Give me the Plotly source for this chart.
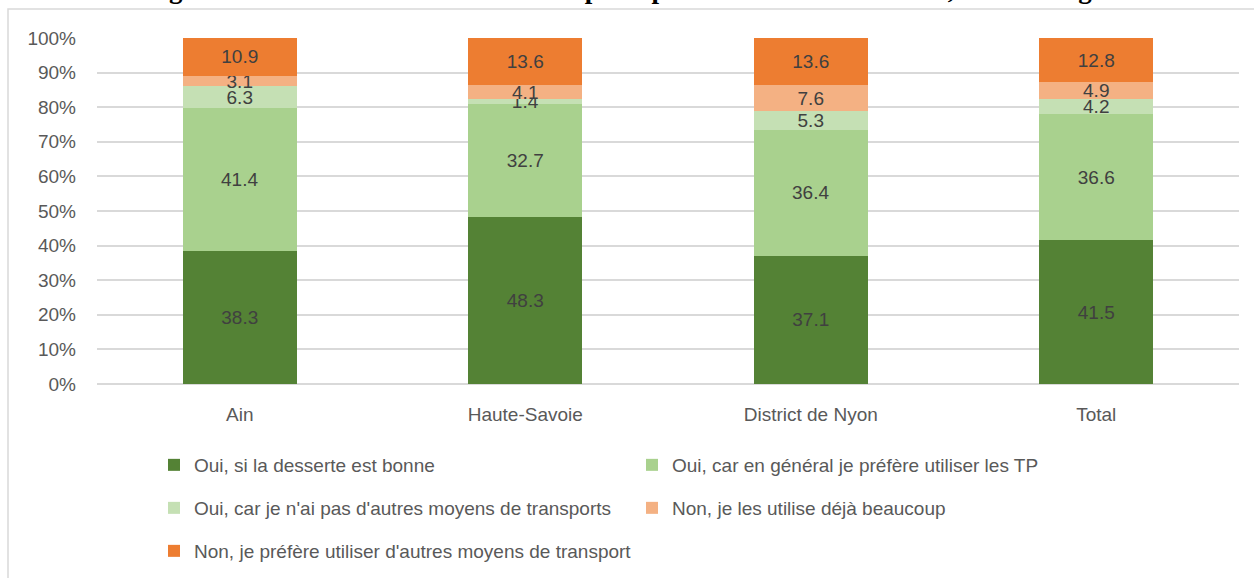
import plotly.graph_objects as go

categories = ["Ain", "Haute-Savoie", "District de Nyon", "Total"]
series_names = [
    "Oui, si la desserte est bonne",
    "Oui, car en général je préfère utiliser les TP",
    "Oui, car je n'ai pas d'autres moyens de transports",
    "Non, je les utilise déjà beaucoup",
    "Non, je préfère utiliser d'autres moyens de transport",
]
desserte_bonne = [38.3, 48.3, 37.1, 41.5]
prefere_tp = [41.4, 32.7, 36.4, 36.6]
pas_autres_moyens = [6.3, 1.4, 5.3, 4.2]
utilise_deja = [3.1, 4.1, 7.6, 4.9]
prefere_autres = [10.9, 13.6, 13.6, 12.8]
series_values = [desserte_bonne, prefere_tp, pas_autres_moyens, utilise_deja, prefere_autres]
colors = ["#548235", "#A9D18E", "#C5E0B4", "#F4B183", "#ED7D31"]
legend_ids = ["legend", "legend", "legend2", "legend2", "legend3"]
y_ticks = [0, 10, 20, 30, 40, 50, 60, 70, 80, 90, 100]
y_tick_labels = [f"{t}%" for t in y_ticks]
title_text = "Figure 17: Utilisation accrue des transports publics si habitait Genève, selon la région"

FONT = "Liberation Sans Narrow, Arial Narrow, Liberation Sans, Arial, sans-serif"

fig = go.Figure()
for name, vals, col, lg in zip(series_names, series_values, colors, legend_ids):
    fig.add_trace(go.Bar(
        x=categories, y=vals, name=name, marker=dict(color=col, line=dict(width=0)),
        text=[f"{v:.1f}" for v in vals], texttemplate="%{text}",
        textposition="inside", insidetextanchor="middle", constraintext="none",
        textfont=dict(color="#404040", size=19, family=FONT),
        legend=lg,
    ))

W, H = 1254, 578
ml, mr, mt, mb = 97, 15, 38, 194
pw, ph = W - ml - mr, H - mt - mb

def px_x(x):
    return (x - ml) / pw

def px_y(y):
    return (H - mb - y) / ph

leg_common = dict(orientation="h", xanchor="left", yanchor="middle", entrywidth=433,
                  entrywidthmode="pixels", traceorder="normal",
                  font=dict(size=19, color="#595959", family=FONT),
                  bgcolor="rgba(0,0,0,0)", borderwidth=0, itemclick=False)

fig.update_layout(
    width=W, height=H,
    margin=dict(l=ml, r=mr, t=mt, b=mb, autoexpand=False),
    barmode="stack", barnorm="percent", bargap=0.6,
    plot_bgcolor="white", paper_bgcolor="white",
    uniformtext=dict(minsize=19, mode="show"),
    font=dict(family=FONT, color="#595959", size=18),
    xaxis=dict(tickfont=dict(size=19, color="#595959", family=FONT), showgrid=False,
               showline=False, ticks="", ticklabelstandoff=17),
    yaxis=dict(range=[0, 100], tickvals=y_ticks, ticktext=y_tick_labels,
               tickfont=dict(size=19, color="#595959", family=FONT),
               showgrid=True, gridcolor="#D9D9D9", gridwidth=1.5, zeroline=True,
               zerolinecolor="#D9D9D9", zerolinewidth=1.5, ticks="", ticklabelstandoff=20),
    legend=dict(x=px_x(154), y=px_y(465), **leg_common),
    legend2=dict(x=px_x(154), y=px_y(508), **leg_common),
    legend3=dict(x=px_x(154), y=px_y(551), **leg_common),
    showlegend=True,
)

fig.add_shape(type="rect", xref="paper", yref="paper",
              x0=px_x(8), x1=px_x(1262), y0=px_y(9), y1=px_y(600),
              line=dict(color="#D9D9D9", width=1.5), fillcolor="rgba(0,0,0,0)", layer="below")

fig.add_annotation(text=f"<b>{title_text}</b>", xref="paper", yref="paper",
                   x=px_x(636), y=px_y(6), xanchor="center", yanchor="bottom",
                   showarrow=False,
                   font=dict(family="Liberation Serif, Times New Roman, serif", size=27, color="black"))

fig.write_html("out.html", config={"displayModeBar": False},
               post_script="document.body.style.margin='0';")
